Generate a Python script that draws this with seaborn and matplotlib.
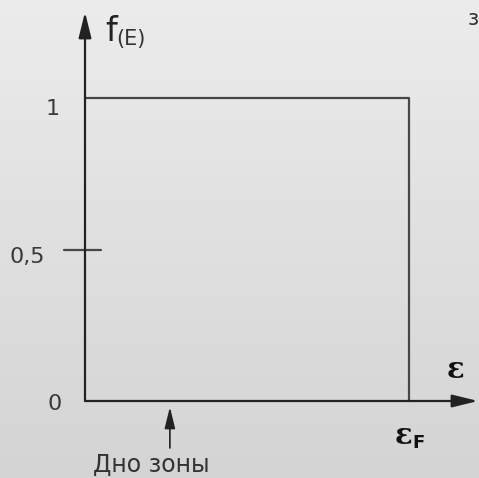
import numpy as np
import pandas as pd
import matplotlib
matplotlib.use("Agg")
import matplotlib.pyplot as plt
import seaborn as sns

# Fermi-Dirac occupancy at T = 0: a step that drops at the Fermi energy
energy = [0.0, 1.0, 1.0]          # in units of eps_F
occupancy = [1.0, 1.0, 0.0]
y_ticks = [0.0, 0.5, 1.0]
y_tick_labels = ["0", "0,5", "1"]
band_bottom = 0.262               # position of the band bottom marker

sns.set_theme(style="white")
plt.rcParams["font.family"] = ["DejaVu Sans"]

W, H = 479, 478
fig = plt.figure(figsize=(W / 100, H / 100), dpi=100)

# soft vertical grey gradient behind everything
bg = fig.add_axes([0, 0, 1, 1], zorder=-1)
grad = np.linspace(0, 1, 256)[:, None]
bg.imshow(grad, aspect="auto", cmap=matplotlib.colors.LinearSegmentedColormap.from_list(
    "g", ["#ececec", "#d4d4d4"]), extent=[0, 1, 0, 1], origin="upper")
bg.axis("off")

ax = fig.add_axes([0, 0, 1, 1])
ax.patch.set_alpha(0)
# pixel -> data mapping: origin at (85, 401) px, eps_F at 324 px, f=1 at 303 px
sx, sy = 324.0, 303.0
ox, oy = 85.0, 401.0
ax.set_xlim(-ox / sx, (W - ox) / sx)
ax.set_ylim(-(H - oy) / sy, oy / sy)
ax.axis("off")

ink = "#474747"
lw = 1.6

df = pd.DataFrame({"E": energy, "f": occupancy})
sns.lineplot(data=df, x="E", y="f", sort=False, estimator=None, color=ink,
             linewidth=lw, ax=ax)

# axes with arrow heads
x_end = (478 - ox) / sx
y_end = (oy - 12) / sy
arrow = dict(arrowstyle="-|>,head_length=1.3,head_width=0.32", color="#222222",
             lw=lw, shrinkA=0, shrinkB=0, mutation_scale=12)
ax.annotate("", xy=(x_end, 0), xytext=(0, 0), arrowprops=arrow)
ax.annotate("", xy=(0, y_end), xytext=(0, 0), arrowprops=arrow)

# tick mark at f = 0.5
ax.plot([-21 / sx, 16 / sx], [0.5, 0.5], color=ink, lw=lw)

# y tick labels
offsets = {"0": -0.01, "0,5": -0.024, "1": -0.036}
xpos = {"0": -23 / sx, "0,5": -40 / sx, "1": -25 / sx}
for v, lab in zip(y_ticks, y_tick_labels):
    ax.text(xpos[lab], v + offsets[lab], lab, ha="right", va="center",
            fontsize=16, color="#3a3a3a")

# axis titles
ax.text(20 / sx, (oy - 31) / sy, "f", fontsize=24, color="#222222",
        ha="left", va="center")
ax.text(31 / sx, (oy - 39) / sy, "(E)", fontsize=15, color="#333333",
        ha="left", va="center")
ax.text((447 - ox) / sx, (oy - 370) / sy, "ε", fontsize=21, color="#111111",
        ha="left", va="center", family="DejaVu Serif", fontweight="bold")
ax.text(1.0 - 14 / sx, -(436 - oy) / sy, "ε", fontsize=21, color="#111111",
        ha="left", va="center", family="DejaVu Serif", fontweight="bold")
ax.text(1.0 + 3 / sx, -(443 - oy) / sy, "F", fontsize=13, color="#111111",
        ha="left", va="center", fontweight="bold")

# band bottom marker
ax.annotate("", xy=(band_bottom, -6 / sy), xytext=(band_bottom, -47 / sy),
            arrowprops=dict(arrowstyle="-|>,head_length=1.3,head_width=0.32",
                            color="#222222", lw=1.2, shrinkA=0, shrinkB=0,
                            mutation_scale=10))
ax.text(band_bottom - 19 / sx, -(465 - oy) / sy, "Дно зоны", fontsize=17,
        color="#333333", ha="center", va="center")

# fragment of neighbouring text at the right edge
ax.text((468 - ox) / sx, (oy - 19) / sy, "з", fontsize=15, color="#333333",
        ha="left", va="center")

fig.savefig("out.png", dpi=100)
